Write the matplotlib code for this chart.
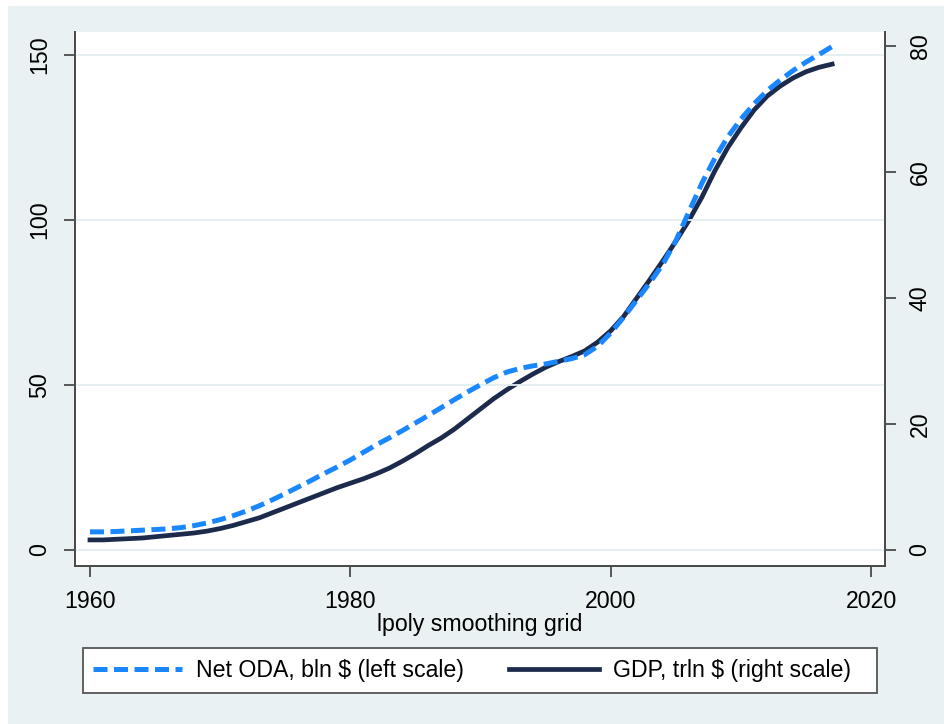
import matplotlib.pyplot as plt
from matplotlib.patches import Rectangle

plt.rcParams['font.family'] = ['Liberation Sans', 'DejaVu Sans']

# lpoly smoothing grid, one point per year
years = list(range(1960, 2018))

# Net ODA, bln $ (left scale)
oda = [5.5, 5.5, 5.6, 5.8, 6.0, 6.2, 6.4, 6.8, 7.4, 8.2,
       9.2, 10.4, 11.8, 13.4, 15.2, 17.1, 19.1, 21.1, 23.2, 25.2,
       27.3, 29.6, 31.9, 34.0, 36.2, 38.5, 40.8, 43.2, 45.6, 47.9,
       50.1, 52.2, 53.9, 55.0, 55.8, 56.4, 57.2, 58.0, 59.2, 61.8,
       65.8, 70.6, 75.8, 81.0, 86.6, 93.8, 102.5, 111.2, 118.8, 125.3,
       130.6, 135.2, 139.2, 142.4, 145.3, 147.9, 150.2, 152.6]

# GDP, trln $ (right scale)
gdp = [1.6, 1.6, 1.7, 1.8, 1.9, 2.1, 2.3, 2.5, 2.7, 3.0,
       3.4, 3.9, 4.5, 5.1, 5.9, 6.7, 7.5, 8.3, 9.1, 9.9,
       10.6, 11.3, 12.1, 13.0, 14.1, 15.3, 16.6, 17.8, 19.2, 20.8,
       22.4, 24.0, 25.4, 26.7, 27.9, 29.0, 29.9, 30.7, 31.6, 33.0,
       34.8, 37.1, 40.0, 42.9, 45.9, 49.0, 52.3, 56.0, 60.2, 63.9,
       67.0, 69.8, 72.0, 73.6, 74.9, 75.9, 76.6, 77.1]

bg = '#e9f1f3'
blue = '#1a87ff'
navy = '#1c2a4c'
axcol = '#4a4a4a'
fs = 16.7

fig = plt.figure(figsize=(9.45, 7.24), dpi=100)
fig.patches.append(Rectangle((8 / 945, 0), 1, 1 - 6 / 724, transform=fig.transFigure,
                             facecolor=bg, edgecolor='none', zorder=-10))

ax = fig.add_axes([75 / 945, 158 / 724, 810 / 945, 534 / 724])
ax2 = ax.twinx()

l1, = ax.plot(years, oda, color=blue, lw=3.6, dashes=(2.8, 1.3), solid_capstyle='butt')
l2, = ax2.plot(years, gdp, color=navy, lw=3.4)
ax2.set_zorder(ax.get_zorder() - 1)
ax.patch.set_visible(False)
ax2.patch.set_facecolor('white')
ax2.patch.set_visible(True)

ax.set_xlim(1958.85, 2021.06)
ax.set_ylim(-4.85, 157)
ax2.set_ylim(-2.54, 82.2)

ax.set_xticks([1960, 1980, 2000, 2020])
ax.set_yticks([0, 50, 100, 150])
ax2.set_yticks([0, 20, 40, 60, 80])
ax.grid(axis='y', color='#e3edef', lw=1.3)
ax.set_axisbelow(True)

for a in (ax, ax2):
    a.spines['top'].set_visible(False)
    for s in ('left', 'right', 'bottom'):
        a.spines[s].set_color(axcol)
        a.spines[s].set_linewidth(1.3)
    a.tick_params(length=8, width=1.3, color=axcol, labelsize=fs, pad=9)

ax.tick_params(axis='y', labelrotation=90)
ax2.tick_params(axis='y', labelrotation=90)
for t in ax.get_yticklabels() + ax2.get_yticklabels():
    t.set_va('center')

ax.set_xlabel('lpoly smoothing grid', fontsize=fs, labelpad=0)

# legend box drawn separately so the two entries can sit where they belong
fig.patches.append(Rectangle((83 / 945, 31 / 724), 794 / 945, 45 / 724, transform=fig.transFigure,
                             facecolor='white', edgecolor='#555555', lw=1.3, zorder=1))
fig.legend([l1, l2], ['Net ODA, bln $ (left scale)', 'GDP, trln $ (right scale)'],
           loc='center left', ncol=2, borderaxespad=0, borderpad=0,
           bbox_to_anchor=(93 / 945, 53 / 724),
           fontsize=fs, handlelength=3.85, handletextpad=0.6, frameon=False,
           columnspacing=1.95)

fig.savefig('out.png', dpi=100)
